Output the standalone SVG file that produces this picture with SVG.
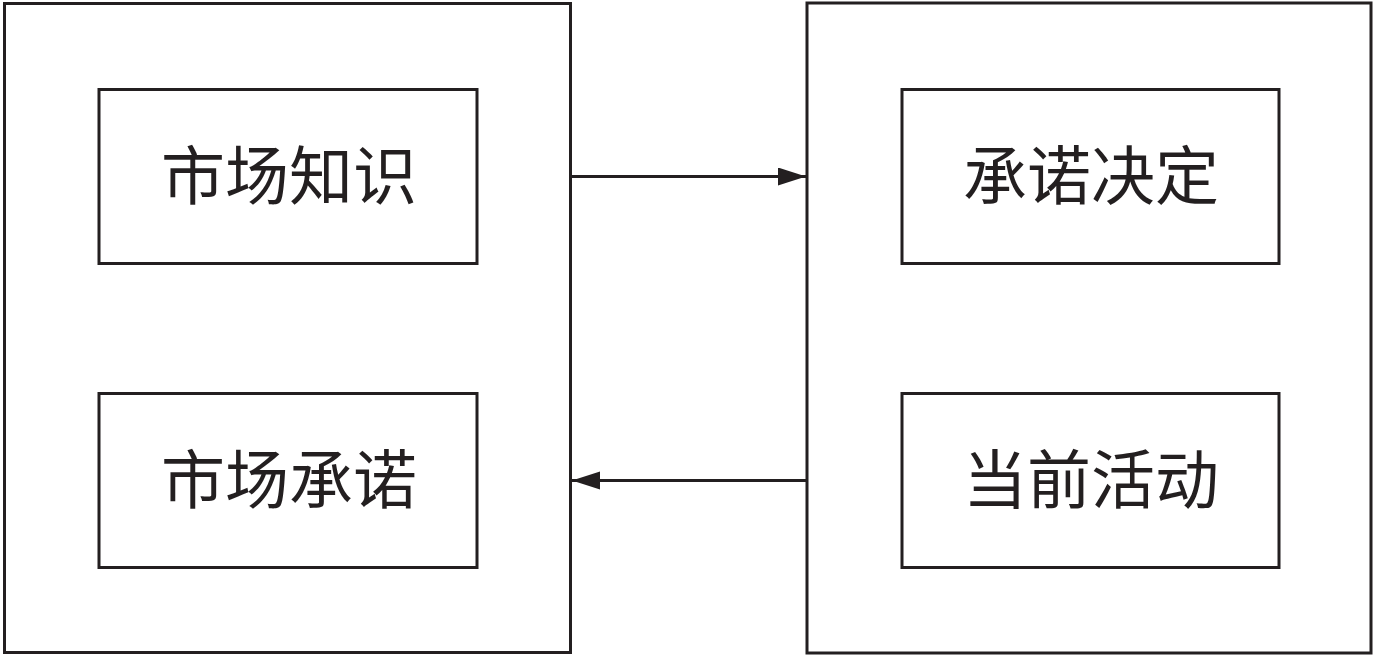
<svg xmlns="http://www.w3.org/2000/svg" width="1378" height="656" viewBox="0 0 1378 656">
<style>
.box{fill:#fff;stroke:#231f20;stroke-width:3}
.lbl{font-family:"Noto Sans CJK SC","Noto Sans CJK TC",sans-serif;font-size:64px;fill:#231f20;text-anchor:middle;dominant-baseline:central}
.con{stroke:#231f20;stroke-width:3;fill:none}
</style>
<defs>
<marker id="ah" markerUnits="userSpaceOnUse" markerWidth="30" markerHeight="20" refX="28" refY="9" orient="auto">
<path d="M0,0 L28,9 L0,18 Z" fill="#231f20"/>
</marker>
</defs>
<rect width="1378" height="656" fill="#fff"/>
<g id="left-outer"><rect class="box" x="4.5" y="3.5" width="566" height="649"/></g>
<g id="right-outer"><rect class="box" x="807" y="3" width="564" height="650"/></g>
<g id="n1"><rect class="box" x="99" y="89.5" width="378" height="174"/><text class="lbl" x="289" y="171">市场知识</text></g>
<g id="n2"><rect class="box" x="99" y="393.5" width="378" height="174"/><text class="lbl" x="289" y="475">市场承诺</text></g>
<g id="n3"><rect class="box" x="902" y="89.5" width="377" height="174"/><text class="lbl" x="1091" y="171">承诺决定</text></g>
<g id="n4"><rect class="box" x="902" y="393.5" width="377" height="174"/><text class="lbl" x="1091" y="475">当前活动</text></g>
<g id="connectors">
<line class="con" x1="571" y1="176.5" x2="806" y2="176.5" marker-end="url(#ah)"/>
<line class="con" x1="806" y1="480.5" x2="572" y2="480.5" marker-end="url(#ah)"/>
</g>
</svg>
